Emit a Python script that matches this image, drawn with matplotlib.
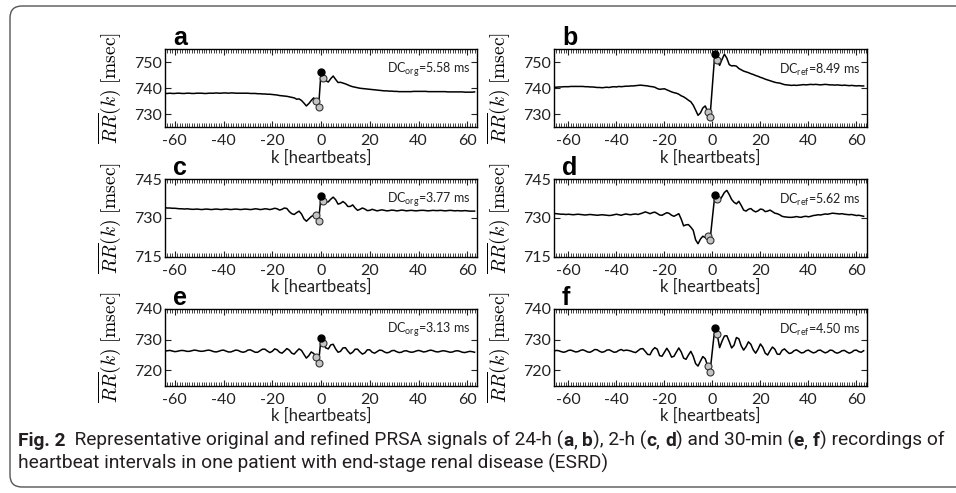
import numpy as np
import matplotlib
matplotlib.use('Agg')
import matplotlib.pyplot as plt
from matplotlib import font_manager
from matplotlib.patches import FancyBboxPatch
from matplotlib.ticker import MultipleLocator

plt.rcParams['font.family'] = ['Lato', 'DejaVu Sans']
plt.rcParams['mathtext.fontset'] = 'custom'
plt.rcParams['mathtext.rm'] = 'Lato'
plt.rcParams['mathtext.it'] = 'Lato:italic'
plt.rcParams['axes.unicode_minus'] = False

# beat index for original (left) and refined (right) PRSA signals
k_org = np.arange(-64, 64)
k_ref = np.arange(-66, 64)

# 24-h original (a)
rr_a = [737.9, 737.9, 738.0, 737.9, 737.9, 738.0, 738.0, 737.9, 737.9, 738.0,
        738.0, 737.9, 737.9, 738.0, 738.0, 738.0, 737.9, 737.9, 738.0, 738.0,
        738.0, 738.1, 738.0, 738.0, 738.1, 738.1, 738.0, 738.1, 738.1, 738.0,
        738.0, 738.0, 738.0, 738.0, 738.0, 737.9, 737.9, 737.9, 737.8, 737.8,
        737.7, 737.7, 737.6, 737.6, 737.5, 737.4, 737.3, 737.1, 737.0, 736.9,
        736.8, 736.6, 736.4, 736.2, 735.7, 735.8, 735.2, 734.2, 733.1, 734.0,
        735.2, 736.2, 734.9, 732.6, 746.0, 743.8, 742.8, 742.3, 743.6, 744.6,
        743.3, 742.1, 742.2, 741.9, 741.6, 741.2, 740.8, 740.5, 740.3, 740.1,
        739.9, 739.8, 739.7, 739.6, 739.5, 739.4, 739.3, 739.2, 739.1, 739.0,
        738.9, 738.9, 738.8, 738.8, 738.7, 738.7, 738.6, 738.6, 738.6, 738.6,
        738.6, 738.6, 738.7, 738.7, 738.7, 738.7, 738.7, 738.7, 738.6, 738.6,
        738.6, 738.6, 738.6, 738.6, 738.6, 738.6, 738.5, 738.5, 738.5, 738.5,
        738.5, 738.5, 738.5, 738.4, 738.4, 738.4, 738.4, 738.5]

# 24-h refined (b)
rr_b = [740.3, 740.3, 740.4, 740.4, 740.5, 740.5, 740.5, 740.6, 740.6, 740.6,
        740.6, 740.6, 740.6, 740.5, 740.5, 740.4, 740.4, 740.3, 740.2, 740.2,
        740.1, 740.2, 740.3, 740.2, 740.4, 740.5, 740.4, 740.6, 740.5, 740.6,
        740.7, 740.7, 740.8, 740.8, 740.9, 741.0, 741.1, 741.0, 740.9, 740.8,
        740.6, 740.5, 740.3, 739.8, 739.5, 739.6, 739.7, 739.3, 738.9, 738.5,
        738.2, 738.0, 737.6, 737.0, 736.6, 736.0, 735.3, 734.7, 733.4, 731.5,
        729.5, 730.4, 732.3, 733.1, 730.9, 728.8, 741.0, 753.2, 750.6, 748.7,
        751.0, 753.0, 751.5, 749.0, 748.5, 748.6, 748.4, 747.5, 747.0, 746.5,
        746.2, 745.9, 745.5, 745.2, 744.8, 744.5, 744.1, 743.8, 743.4, 743.1,
        742.8, 742.5, 742.2, 742.0, 741.9, 741.6, 741.3, 741.2, 741.1, 741.0,
        741.1, 741.0, 741.1, 741.2, 741.3, 741.2, 741.3, 741.4, 741.3, 741.4,
        741.3, 741.2, 741.3, 741.4, 741.3, 741.2, 741.2, 741.1, 741.2, 741.1,
        741.0, 741.1, 741.0, 740.9, 741.0, 740.9, 740.8, 740.9, 740.8, 740.8]

# 2-h original (c)
rr_c = [733.9, 733.8, 733.8, 733.7, 733.7, 733.6, 733.5, 733.5, 733.4, 733.5,
        733.4, 733.3, 733.3, 733.4, 733.3, 733.2, 733.3, 733.4, 733.3, 733.2,
        733.3, 733.4, 733.3, 733.2, 733.3, 733.4, 733.3, 733.2, 733.3, 733.4,
        733.3, 733.2, 733.3, 733.4, 733.3, 733.2, 733.3, 733.5, 733.4, 733.2,
        733.3, 733.5, 733.4, 733.2, 733.4, 733.7, 733.5, 733.0, 733.3, 733.8,
        733.6, 732.4, 731.6, 731.3, 732.0, 732.6, 731.5, 729.6, 728.7, 729.6,
        730.5, 731.0, 731.2, 728.6, 738.3, 736.6, 736.0, 736.2, 737.2, 738.0,
        737.0, 735.3, 735.6, 736.3, 735.6, 734.4, 734.4, 735.0, 733.8, 732.9,
        733.3, 733.8, 733.4, 732.8, 732.9, 733.3, 733.0, 732.7, 732.9, 733.1,
        732.9, 732.7, 732.8, 733.0, 732.9, 732.7, 732.8, 733.0, 732.9, 732.7,
        732.8, 732.9, 732.8, 732.7, 732.8, 732.9, 732.9, 732.8, 732.7, 732.8,
        732.9, 732.8, 732.8, 732.9, 732.8, 732.7, 732.8, 732.9, 732.8, 732.7,
        732.8, 732.7, 732.7, 732.8, 732.7, 732.6, 732.6, 732.6]

# 2-h refined (d)
rr_d = [731.7, 731.6, 731.5, 731.4, 731.4, 731.3, 731.4, 731.3, 731.2, 731.3,
        731.4, 731.3, 731.2, 731.1, 731.2, 731.3, 731.2, 731.1, 731.0, 731.1,
        731.2, 731.1, 731.0, 730.9, 731.0, 731.2, 731.4, 731.2, 731.0, 731.3,
        731.5, 731.3, 731.2, 731.4, 731.5, 731.3, 731.6, 731.9, 732.3, 732.0,
        731.6, 732.0, 732.2, 731.7, 731.1, 731.0, 731.5, 732.0, 731.7, 731.0,
        730.6, 731.1, 731.6, 729.5, 726.9, 727.3, 727.4, 726.4, 725.2, 721.5,
        720.0, 721.8, 722.9, 722.4, 723.1, 721.3, 730.0, 738.8, 737.4, 736.8,
        738.2, 739.8, 740.6, 739.0, 737.1, 736.0, 735.4, 736.4, 734.8, 733.0,
        732.6, 733.3, 733.6, 732.8, 732.3, 732.7, 733.4, 733.2, 732.4, 732.6,
        733.0, 732.4, 731.8, 731.6, 731.2, 730.6, 730.4, 730.3, 730.2, 730.2,
        730.3, 730.5, 730.3, 730.2, 730.5, 730.6, 730.4, 730.6, 730.9, 731.0,
        731.2, 731.1, 731.3, 731.5, 731.4, 731.6, 731.8, 731.7, 731.6, 731.5,
        731.6, 731.4, 731.3, 731.2, 731.3, 731.1, 730.9, 731.0, 730.8, 730.6]

# 30-min original (e)
rr_e = [726.3, 726.4, 726.5, 726.3, 726.1, 726.2, 726.4, 726.5, 726.4, 726.2,
        726.2, 726.4, 726.6, 726.5, 726.3, 726.2, 726.3, 726.5, 726.6, 726.4,
        726.1, 726.0, 726.2, 726.5, 726.6, 726.3, 726.0, 726.0, 726.3, 726.6,
        726.5, 726.1, 725.9, 726.1, 726.6, 726.7, 726.3, 725.9, 725.9, 726.4,
        726.9, 726.9, 726.3, 725.8, 726.2, 727.0, 726.7, 725.9, 725.6, 726.3,
        727.1, 726.6, 725.6, 725.3, 726.2, 727.0, 726.5, 725.2, 724.0, 724.8,
        726.0, 725.5, 724.3, 722.4, 730.4, 728.8, 727.3, 727.0, 728.3, 728.5,
        727.0, 725.9, 726.2, 727.3, 727.4, 726.3, 725.4, 725.9, 726.9, 726.9,
        726.0, 725.3, 725.7, 726.7, 726.7, 725.9, 725.6, 726.1, 726.6, 726.5,
        726.0, 725.7, 725.9, 726.4, 726.5, 726.1, 725.8, 725.9, 726.3, 726.4,
        726.1, 725.9, 726.0, 726.3, 726.5, 726.3, 726.0, 726.1, 726.4, 726.6,
        726.4, 726.1, 726.0, 726.2, 726.4, 726.3, 726.1, 725.9, 726.0, 726.3,
        726.4, 726.2, 725.9, 725.8, 726.0, 726.2, 726.1, 725.9]

# 30-min refined (f)
rr_f = [726.3, 726.5, 726.4, 726.1, 725.9, 726.1, 726.5, 726.6, 726.3, 726.0,
        726.1, 726.5, 726.7, 726.4, 726.0, 725.9, 726.3, 726.8, 726.7, 726.2,
        725.9, 726.1, 726.6, 726.7, 726.3, 725.9, 726.0, 726.5, 726.8, 726.4,
        726.6, 726.5, 726.3, 726.0, 725.8, 726.4, 727.0, 727.1, 726.2, 725.2,
        725.1, 726.6, 727.4, 726.9, 724.8, 724.6, 725.9, 727.2, 726.0, 724.3,
        724.6, 726.0, 727.3, 726.0, 724.0, 723.6, 725.0, 726.2, 724.6, 722.2,
        721.4, 723.0, 724.5, 723.8, 721.5, 719.4, 726.6, 733.8, 731.7, 727.4,
        729.5, 731.2, 731.3, 729.4, 727.3, 728.2, 730.7, 730.3, 728.0, 726.6,
        727.7, 729.3, 728.5, 726.7, 725.6, 726.9, 728.6, 727.5, 725.6, 725.0,
        726.4, 727.6, 726.9, 725.3, 725.2, 726.5, 727.0, 726.2, 725.5, 725.7,
        726.4, 726.7, 726.2, 725.7, 725.8, 726.4, 726.6, 726.1, 725.7, 725.9,
        726.5, 726.6, 726.1, 725.7, 726.0, 726.6, 726.5, 725.9, 725.6, 725.9,
        726.4, 726.5, 726.0, 725.6, 725.9, 726.5, 726.6, 726.1, 725.9, 726.4]

dc_labels = ['DC$_{\\rm org}$=5.58 ms', 'DC$_{\\rm ref}$=8.49 ms',
             'DC$_{\\rm org}$=3.77 ms', 'DC$_{\\rm ref}$=5.62 ms',
             'DC$_{\\rm org}$=3.13 ms', 'DC$_{\\rm ref}$=4.50 ms']
letters = ['a', 'b', 'c', 'd', 'e', 'f']
ylims = [(725, 755), (725, 755), (715, 745), (715, 745), (715, 740), (715, 740)]
yticks = [[730, 740, 750], [730, 740, 750], [715, 730, 745], [715, 730, 745],
          [720, 730, 740], [720, 730, 740]]

# anchor (black) and neighbouring (grey) beats
org_anchor, org_grey = 0, [-2, -1, 1]
ref_anchor, ref_grey = 1, [-2, -1, 2]

W, H = 956, 493
fig = plt.figure(figsize=(W / 100, H / 100), dpi=100)

bg = fig.add_axes([0, 0, 1, 1])
bg.set_xlim(0, W)
bg.set_ylim(H, 0)
bg.axis('off')
bg.add_patch(FancyBboxPatch((10, 6), 990, 481,
                            boxstyle='round,pad=0,rounding_size=12',
                            fc='none', ec='#555555', lw=1.0))

cols = [(165, 312), (554, 313)]
rows = [(49, 127), (179, 256.7), (309, 385.7)]
series = [(k_org, rr_a), (k_ref, rr_b), (k_org, rr_c), (k_ref, rr_d),
          (k_org, rr_e), (k_ref, rr_f)]

for i in range(6):
    r, c = divmod(i, 2)
    x0, w = cols[c]
    top, bot = rows[r]
    ax = fig.add_axes([x0 / W, 1 - bot / H, w / W, (bot - top) / H])
    k, rr = series[i]
    rr = np.array(rr)
    ax.plot(k, rr, color='black', lw=1.1, zorder=2)

    anchor, grey = (org_anchor, org_grey) if c == 0 else (ref_anchor, ref_grey)
    gi = [list(k).index(g) for g in grey]
    ax.plot(k[gi], rr[gi], 'o', ms=5, mfc='#c4c4c4', mec='#333333',
            mew=0.8, zorder=3)
    ai = list(k).index(anchor)
    ax.plot(k[ai], rr[ai], 'o', ms=5, mfc='black', mec='black', zorder=4)

    if c == 0:
        ax.set_xlim(-64, 64)
    else:
        ax.set_xlim(-66, 64.4)
    ax.set_ylim(*ylims[i])
    ax.set_xticks([-60, -40, -20, 0, 20, 40, 60])
    ax.set_yticks(yticks[i])
    ax.xaxis.set_minor_locator(MultipleLocator(1))
    ax.tick_params(axis='both', which='both', direction='in', top=True,
                   right=True, width=0.8, labelsize=11.5, colors='#222222')
    ax.tick_params(axis='both', which='major', length=4)
    ax.tick_params(axis='x', which='minor', length=3, width=0.6)
    ax.tick_params(axis='x', which='major', pad=5)
    ax.tick_params(axis='y', which='major', pad=2)
    for sp in ax.spines.values():
        sp.set_linewidth(1.0)

    ax.set_xlabel('k [heartbeats]', fontsize=12, labelpad=1, color='#222222')
    ax.set_ylabel(r'$\overline{RR}(k)\ [\mathrm{msec}]$', fontsize=14,
                  math_fontfamily='cm')
    ax.yaxis.set_label_coords(-0.135, 0.5)

    ax.text(0.978, 0.73, dc_labels[i], transform=ax.transAxes, ha='right',
            va='center', fontsize=9, color='#222222')
    bg.text(x0 + 8, top - 4, letters[i], fontsize=18, fontweight='bold',
            family=['Liberation Sans', 'DejaVu Sans'], va='baseline')

# caption
names = set(font_manager.get_font_names())
cap_family = ['Liberation Sans Narrow'] if 'Liberation Sans Narrow' in names \
    else ['Roboto', 'DejaVu Sans']
line1 = [('Fig. 2', 'bold'),
         ('  Representative original and refined PRSA signals of 24-h (', 'normal'),
         ('a', 'bold'), (', ', 'normal'), ('b', 'bold'), ('), 2-h (', 'normal'),
         ('c', 'bold'), (', ', 'normal'), ('d', 'bold'),
         (') and 30-min (', 'normal'), ('e', 'bold'), (', ', 'normal'),
         ('f', 'bold'), (') recordings of', 'normal')]
line2 = [('heartbeat intervals in one patient with end-stage renal disease (ESRD)',
          'normal')]

renderer = fig.canvas.get_renderer()


def draw_line(pieces, x, y, size, draw=True):
    for s, wgt in pieces:
        t = bg.text(x, y, s, fontsize=size, fontweight=wgt, family=cap_family,
                    color='#231f20', va='baseline')
        x += t.get_window_extent(renderer).width
        if not draw:
            t.remove()
    return x


end = draw_line(line1, 18, 446, 10, draw=False)
cap_size = 10 * 928 / (end - 18)
draw_line(line1, 18, 446, cap_size)
draw_line(line2, 18, 469, cap_size)

fig.savefig('out.png', dpi=100)
